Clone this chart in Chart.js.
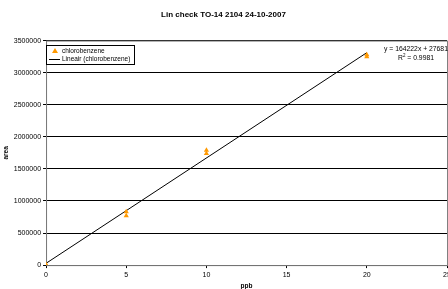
<!DOCTYPE html>
<html>
<head>
<meta charset="utf-8">
<script src="https://cdn.jsdelivr.net/npm/chart.js@4"></script>
<style>
  html, body { margin: 0; padding: 0; background: #fff; overflow: hidden; }
  #wrap { width: 470px; height: 289px; }
</style>
</head>
<body>
<div id="wrap"><canvas id="myChart" width="470" height="289"></canvas></div>
<script>
const chartTitle = "Lin check TO-14 2104 24-10-2007";
const seriesName = "chlorobenzene";
const trendName = "Lineair (chlorobenzene)";
const ppbValues = [0, 0, 5, 5, 10, 10, 20, 20];
const areaValues = [0, 10000, 770000, 830000, 1740000, 1790000, 3250000, 3280000];
const trendSlope = 164222;
const trendIntercept = 27681;
const trendRange = [0, 20];
const trendEquation = "y = 164222x + 27681";
const trendR2 = "0.9981";

const font = "Liberation Sans, Arial, sans-serif";

const legendBox = {
  id: "legendBox",
  beforeDatasetsDraw(chart) {
    const ctx = chart.ctx;
    const a = chart.chartArea;
    ctx.save();
    ctx.strokeStyle = "#808080";
    ctx.lineWidth = 1;
    ctx.strokeRect(a.left + 0.5, a.top + 0.5, a.right - a.left, a.bottom - a.top);
    ctx.restore();
  },
  afterDraw(chart) {
    const ctx = chart.ctx;
    ctx.save();
    // legend in upper left
    const x = 46, y = 45, w = 88, h = 19;
    ctx.fillStyle = "#fff";
    ctx.fillRect(x, y, w, h);
    ctx.strokeStyle = "#000";
    ctx.lineWidth = 1;
    ctx.strokeRect(x + 0.5, y + 0.5, w, h);
    ctx.fillStyle = "#FF9900";
    ctx.beginPath();
    ctx.moveTo(x + 9, y + 3);
    ctx.lineTo(x + 12, y + 8);
    ctx.lineTo(x + 6, y + 8);
    ctx.closePath();
    ctx.fill();
    ctx.strokeStyle = "#000";
    ctx.beginPath();
    ctx.moveTo(x + 3, y + 14.5);
    ctx.lineTo(x + 14, y + 14.5);
    ctx.stroke();
    ctx.fillStyle = "#000";
    ctx.font = "6.5px " + font;
    ctx.textBaseline = "middle";
    ctx.fillText(seriesName, x + 16, y + 6);
    ctx.fillText(trendName, x + 16, y + 14);
    // trendline label
    ctx.font = "6.8px " + font;
    ctx.textAlign = "center";
    ctx.fillText(trendEquation, 416, 49);
    ctx.textAlign = "left";
    const rest = " = " + trendR2;
    const wR = ctx.measureText("R").width;
    const wRest = ctx.measureText(rest).width;
    ctx.font = "4.5px " + font;
    const w2 = ctx.measureText("2").width;
    const sx = 416 - (wR + w2 + wRest) / 2;
    ctx.fillText("2", sx + wR, 56);
    ctx.font = "6.8px " + font;
    ctx.fillText("R", sx, 58);
    ctx.fillText(rest, sx + wR + w2, 58);
    ctx.restore();
  }
};

const ctx = document.getElementById("myChart").getContext("2d");
const chart = new Chart(ctx, {
  type: "scatter",
  data: {
    datasets: [
      {
        label: seriesName,
        data: ppbValues.map((x, i) => ({ x: x, y: areaValues[i] })),
        pointStyle: "triangle",
        backgroundColor: "#FF9900",
        borderColor: "#FF9900",
        pointRadius: 3,
        borderWidth: 0
      },
      {
        label: trendName,
        type: "line",
        data: trendRange.map(x => ({ x: x, y: trendSlope * x + trendIntercept })),
        borderColor: "#000",
        borderWidth: 1,
        pointRadius: 0,
        fill: false
      }
    ]
  },
  options: {
    responsive: false,
    animation: false,
    layout: { padding: { top: 0, right: 23, left: 0, bottom: 0 } },
    plugins: {
      legend: { display: false },
      tooltip: { enabled: false },
      title: {
        display: true,
        text: chartTitle,
        color: "#000",
        font: { family: font, size: 8, weight: "bold" },
        padding: { top: 10, bottom: 21 }
      }
    },
    scales: {
      x: {
        type: "linear",
        min: 0,
        max: 25,
        ticks: { stepSize: 5, color: "#000", font: { family: font, size: 7 }, padding: 3 },
        grid: { drawOnChartArea: false, drawTicks: true, tickLength: 3, color: "#000" },
        border: { color: "#000", width: 1 },
        title: { display: true, text: "ppb", color: "#000", font: { family: font, size: 6.5, weight: "bold", lineHeight: 1 }, padding: { top: 0, bottom: 0 } }
      },
      y: {
        min: 0,
        max: 3500000,
        ticks: { stepSize: 500000, color: "#000", font: { family: font, size: 7 }, padding: 2,
          callback: v => String(v) },
        grid: { color: "#000", lineWidth: 1, tickLength: 3 },
        border: { color: "#000", width: 1 },
        title: { display: true, text: "area", color: "#000", font: { family: font, size: 6.5, weight: "bold" }, padding: { top: 2, bottom: 2 } }
      }
    }
  },
  plugins: [legendBox]
});
</script>
</body>
</html>
